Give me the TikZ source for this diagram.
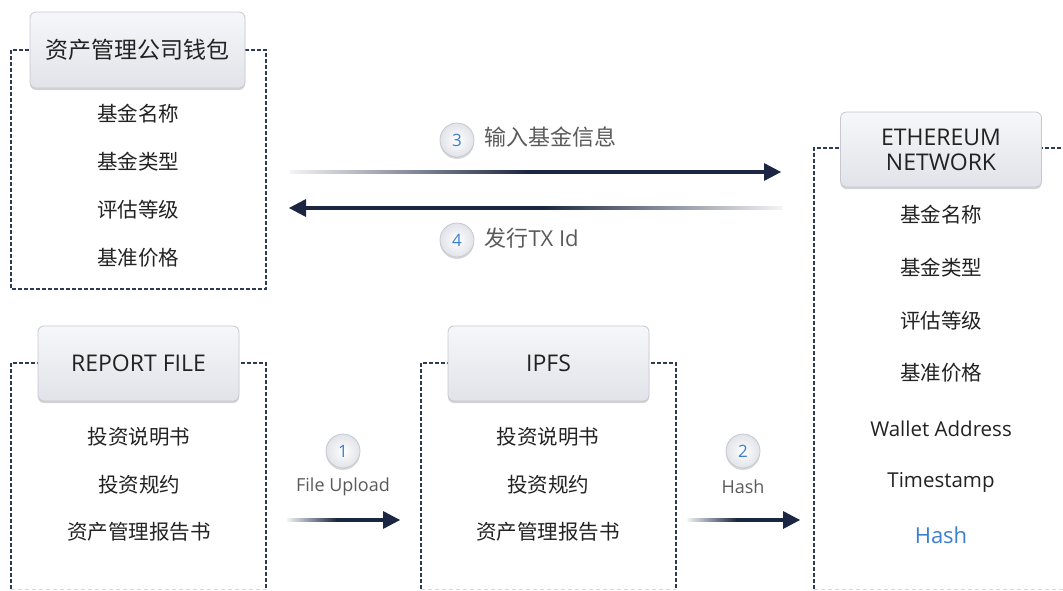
\documentclass[tikz,border=0pt]{standalone}
\usepackage{fontspec}
\setmainfont{Open Sans}
\newfontfamily\cjk{Noto Sans CJK SC}
\usetikzlibrary{shadows,calc}
\definecolor{arrowc}{HTML}{1B2642}
\definecolor{fadec}{HTML}{F2F3F5}
\definecolor{dashc}{HTML}{2E3B57}
\definecolor{hdrtop}{HTML}{F6F7F9}
\definecolor{hdrbot}{HTML}{E1E3E9}
\definecolor{hdrline}{HTML}{C4C8D0}
\definecolor{numblue}{HTML}{3A7FD0}
\definecolor{itemc}{HTML}{222222}
\definecolor{labc}{HTML}{5A5A5A}
\pgfdeclarehorizontalshading{fadeR}{100bp}{color(0bp)=(fadec); color(25bp)=(fadec); color(50bp)=(arrowc); color(100bp)=(arrowc)}
\pgfdeclarehorizontalshading{fadeL}{100bp}{color(0bp)=(arrowc); color(50bp)=(arrowc); color(75bp)=(fadec); color(100bp)=(fadec)}
\tikzset{
  hdr/.style={rounded corners=6pt, top color=hdrtop, bottom color=hdrbot, draw=hdrline, line width=0.8pt,
    drop shadow={opacity=0.35, shadow xshift=0pt, shadow yshift=-2pt}, text=itemc, align=center, inner sep=0pt},
  grp/.style={draw=dashc, dash pattern=on 4pt off 2pt, line width=1.2pt},
  grpb/.style={draw=hdrline!70, dash pattern=on 4pt off 3pt, line width=0.8pt},
  item/.style={text=itemc, font=\cjk\fontsize{20.5}{24}\selectfont},
  itemen/.style={text=itemc, font=\fontsize{20.5}{24}\selectfont},
  num/.style={circle, minimum size=34pt, inner sep=0pt, inner color=white, outer color=hdrbot, draw=hdrline, line width=0.8pt,
    drop shadow={opacity=0.3, shadow xshift=0pt, shadow yshift=-2pt}, text=numblue, font=\fontsize{17}{20}\selectfont},
  lab/.style={text=labc, font=\fontsize{22}{26}\selectfont, anchor=west},
  labs/.style={text=labc, font=\fontsize{18}{22}\selectfont},
  ahead/.style={fill=arrowc}
}
\begin{document}
\begin{tikzpicture}[x=1pt,y=-1pt]
\useasboundingbox (0,0) rectangle (1063,590);
% group boxes
\draw[grp] (137,50) -| (266,289) -| (11,50) -- cycle;
\draw[grp] (11,589) -- (11,363) -- (266,363) -- (266,589);
\draw[grpb] (11,589) -- (266,589);
\draw[grp] (421,589) -- (421,363) -- (676,363) -- (676,589);
\draw[grpb] (421,589) -- (676,589);
\draw[grp] (814,589) -- (814,148) -- (1070,148);
\draw[grpb] (814,589) -- (1063,589);
% headers
\node[hdr, minimum width=215pt, minimum height=76pt, font=\cjk\fontsize{23}{27}\selectfont] (wallet) at (137.5,50) {资产管理公司钱包};
\node[hdr, minimum width=201pt, minimum height=75pt, font=\fontsize{23}{25}\selectfont] (eth) at (941,149.5) {ETHEREUM\\NETWORK};
\node[hdr, minimum width=201pt, minimum height=75pt, font=\fontsize{23}{27}\selectfont] (report) at (138.5,363.5) {REPORT FILE};
\node[hdr, minimum width=201pt, minimum height=75pt, font=\fontsize{23}{27}\selectfont] (ipfs) at (548.5,363.5) {IPFS};
% wallet items
\node[item] (w1) at (138,114) {基金名称};
\node[item] (w2) at (138,162) {基金类型};
\node[item] (w3) at (138,210) {评估等级};
\node[item] (w4) at (138,258) {基准价格};
% eth items
\node[item] (e1) at (941,215) {基金名称};
\node[item] (e2) at (941,268) {基金类型};
\node[item] (e3) at (941,321) {评估等级};
\node[item] (e4) at (941,373) {基准价格};
\node[itemen] (e5) at (941,429) {Wallet Address};
\node[itemen] (e6) at (941,482) {Timestamp};
\node[text=numblue, font=\fontsize{22}{26}\selectfont] (e7) at (941,535) {Hash};
% report items
\node[item] (r1) at (139,437) {投资说明书};
\node[item] (r2) at (139,485) {投资规约};
\node[item] (r3) at (139,532) {资产管理报告书};
% ipfs items
\node[item] (i1) at (548,437) {投资说明书};
\node[item] (i2) at (548,485) {投资规约};
\node[item] (i3) at (548,532) {资产管理报告书};
% arrow coordinates
\coordinate (a3s) at (290,172);
\coordinate (a3e) at (781,172);
\coordinate (a4s) at (782,208);
\coordinate (a4e) at (289,208);
\coordinate (a1s) at (287,520);
\coordinate (a1e) at (400,520);
\coordinate (a2s) at (687,520);
\coordinate (a2e) at (800,520);
% arrow 3
\shade[shading=fadeR] ($(a3s)+(0,-1.8)$) rectangle ($(a3e)+(-14,1.8)$);
\fill[ahead] (a3e) -- ++(-17,-9) -- ++(0,18) -- cycle;
% arrow 4
\shade[shading=fadeL] ($(a4e)+(14,-1.8)$) rectangle ($(a4s)+(0,1.8)$);
\fill[ahead] (a4e) -- ++(17,-9) -- ++(0,18) -- cycle;
% arrow 1
\shade[shading=fadeR] ($(a1s)+(0,-1.8)$) rectangle ($(a1e)+(-14,1.8)$);
\fill[ahead] (a1e) -- ++(-17,-9) -- ++(0,18) -- cycle;
% arrow 2
\shade[shading=fadeR] ($(a2s)+(0,-1.8)$) rectangle ($(a2e)+(-14,1.8)$);
\fill[ahead] (a2e) -- ++(-17,-9) -- ++(0,18) -- cycle;
% step badges
\node[num] (n3) at (457,140) {3};
\node[lab] (l3) at (481,137) {\cjk 输入基金信息};
\node[num] (n4) at (457,240) {4};
\node[lab] (l4) at (481,238) {{\cjk 发行}TX Id};
\node[num] (n1) at (343,451) {1};
\node[labs] (l1) at (343,487) {File Upload};
\node[num] (n2) at (743,451) {2};
\node[labs] (l2) at (743,487) {Hash};
\end{tikzpicture}
\end{document}
